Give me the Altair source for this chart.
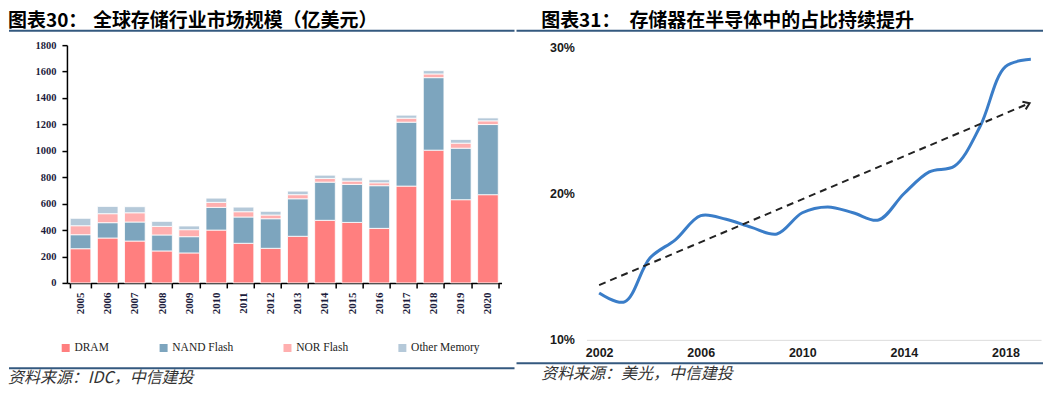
import altair as alt
import pandas as pd

# ---------------- data: left chart (market size, 100M USD) ----------------
years_bar = [str(y) for y in range(2005, 2021)]
dram = [259, 340, 317, 242, 227, 400, 300, 262, 353, 474, 458, 413, 733, 1005, 630, 668]
nand = [106, 116, 144, 121, 123, 172, 199, 224, 284, 289, 288, 323, 484, 549, 390, 531]
nor = [68, 68, 70, 65, 53, 38, 40, 28, 31, 28, 25, 22, 30, 28, 38, 28]
other = [56, 55, 46, 38, 28, 32, 35, 28, 27, 25, 25, 23, 23, 25, 28, 22]
series_names = ["DRAM", "NAND Flash", "NOR Flash", "Other Memory"]
series_colors = ["#FF7F7F", "#7DA5BE", "#FFAFAF", "#B5C9D9"]
y_ticks_left = list(range(0, 1801, 200))

# ---------------- data: right chart (memory share of semis, %) ----------------
share_years = list(range(2002, 2020))
share_values = [13.2, 12.6, 15.6, 16.85, 18.5, 18.25, 17.7, 17.25, 18.7,
                19.1, 18.7, 18.2, 20.0, 21.5, 21.9, 24.6, 28.7, 29.2]
trend_years = [2002, 2018.95]
trend_values = [13.75, 26.2]
x_ticks_right = [2002, 2006, 2010, 2014, 2018]
y_ticks_right = [10, 20, 30]

# ---------------- texts ----------------
left_tag = "图表30："
left_title = "全球存储行业市场规模（亿美元）"
left_source = "资料来源：IDC，中信建投"
right_tag = "图表31："
right_title = "存储器在半导体中的占比持续提升"
right_source = "资料来源：美光，中信建投"

RULE_COLOR = "#34597F"
CJK = "Noto Sans CJK SC"
SERIF = "'Liberation Serif', 'Times New Roman', serif"
SANS = "'Liberation Sans', Arial, sans-serif"

rows = []
for i, y in enumerate(years_bar):
    for k, (name, vals) in enumerate(zip(series_names, [dram, nand, nor, other])):
        rows.append({"year": y, "series": name, "value": vals[i], "k": k})
bar_df = pd.DataFrame(rows)

share_df = pd.DataFrame({"year": share_years, "share": share_values})
trend_df = pd.DataFrame({"year": trend_years, "share": trend_values})
one = pd.DataFrame({"v": [0]})


def text_mark(txt, x, y, size, weight="normal", style="normal", font=CJK, color="black"):
    return alt.Chart(one).mark_text(
        text=txt, align="left", baseline="middle", font=font, fontSize=size,
        fontWeight=weight, fontStyle=style, color=color
    ).encode(x=alt.value(x), y=alt.value(y))


def rule_mark(x1, x2, y, color=RULE_COLOR, width=2):
    return alt.Chart(one).mark_rule(color=color, strokeWidth=width).encode(
        x=alt.value(x1), x2=alt.value(x2), y=alt.value(y)
    )


# ---------------- left panel (plot origin at page 67,45) ----------------
bars = alt.Chart(bar_df).mark_bar(stroke="white", strokeWidth=0.8).encode(
    x=alt.X(
        "year:N", sort=years_bar,
        scale=alt.Scale(paddingInner=0.24, paddingOuter=0.12),
        axis=alt.Axis(
            title=None, labelAngle=270, labelFont=SERIF,
            labelFontWeight="bold", labelFontSize=11, labelColor="#1c1c3c",
            tickBand="extent", tickSize=5, tickColor="black", tickWidth=1.5,
            domainColor="black", domainWidth=1.5, labelPadding=4,
        ),
    ),
    y=alt.Y(
        "value:Q", stack="zero",
        scale=alt.Scale(domain=[0, 1800], nice=False),
        axis=alt.Axis(
            values=y_ticks_left, format="d", title=None, grid=False, tickSize=5,
            tickColor="black", tickWidth=1.5, domainColor="black",
            domainWidth=1.5, labelFont=SERIF, labelFontWeight="bold",
            labelFontSize=10.5, labelColor="#1c1c3c", labelPadding=6,
        ),
    ),
    color=alt.Color(
        "series:N", sort=series_names,
        scale=alt.Scale(domain=series_names, range=series_colors),
        legend=alt.Legend(
            title=None, orient="none", legendX=-7, legendY=297,
            direction="horizontal", columns=4, columnPadding=48,
            symbolType="square", symbolSize=64, symbolStrokeWidth=0,
            labelFont=SERIF, labelFontSize=11.5,
            labelColor="#222222", labelOffset=3,
        ),
    ),
    order=alt.Order("k:Q"),
)

left = alt.layer(
    bars,
    rule_mark(-58, 448, -36.5, color="white", width=1),
    rule_mark(-58, 448, 345, color="white", width=1),
    text_mark(left_tag, -59, -24, 19, weight="bold"),
    text_mark(left_title, 26, -24, 19, weight="bold"),
    rule_mark(-58, 448, -14.5),
    rule_mark(-58, 448, 323.3),
    text_mark(left_source, -59, 333.5, 16, style="italic", color="#333333"),
).properties(width=435, height=238)

# ---------------- right panel (plot origin at page 587,45) ----------------
xs = alt.Scale(domain=[2001.5, 2019.4], nice=False, zero=False)
ys = alt.Scale(domain=[10, 30.171], nice=False, zero=False)

line = alt.Chart(share_df).mark_line(
    color="#3A7DC8", strokeWidth=3, interpolate="catmull-rom"
).encode(
    x=alt.X(
        "year:Q", scale=xs,
        axis=alt.Axis(
            values=x_ticks_right, format="d", title=None, grid=False, ticks=False,
            domainColor="#dcdcdc", domainWidth=1, labelFont=SANS,
            labelFontWeight="bold", labelFontSize=12.5, labelColor="#1a1a1a",
            labelPadding=7, labelFlush=False,
        ),
    ),
    y=alt.Y(
        "share:Q", scale=ys,
        axis=alt.Axis(
            values=y_ticks_right, labelExpr="datum.value + '%'", title=None,
            grid=False, ticks=False, domain=False, labelAlign="left",
            labelPadding=37, labelFont=SANS, labelFontWeight="bold",
            labelFontSize=12.5, labelColor="#1a1a1a",
        ),
    ),
)

trend = alt.Chart(trend_df).mark_line(
    color="#222222", strokeWidth=2, strokeDash=[7, 5]
).encode(x=alt.X("year:Q", scale=xs), y=alt.Y("share:Q", scale=ys))

arrow = alt.Chart(trend_df.tail(1)).mark_point(
    shape="M-1,-0.7L0,0L-1,0.7", filled=False, color="#222222",
    strokeWidth=2, size=144, angle=337, opacity=1
).encode(x=alt.X("year:Q", scale=xs), y=alt.Y("share:Q", scale=ys))

right = alt.layer(
    line, trend, arrow,
    rule_mark(-70, 457, -36.5, color="white", width=1),
    text_mark(right_tag, -45.3, -24, 19, weight="bold"),
    text_mark(right_title, 43, -24, 19, weight="bold"),
    rule_mark(-70, 457, -14.5),
    rule_mark(-70, 457, 318.5),
    text_mark(right_source, -45.3, 329, 16, style="italic", color="#333333"),
).properties(width=455, height=295)

chart = alt.hconcat(left, right, spacing=0).properties(padding=0).configure_view(stroke=None)

chart.save("out.html", embed_options={"renderer": "svg", "actions": False})
